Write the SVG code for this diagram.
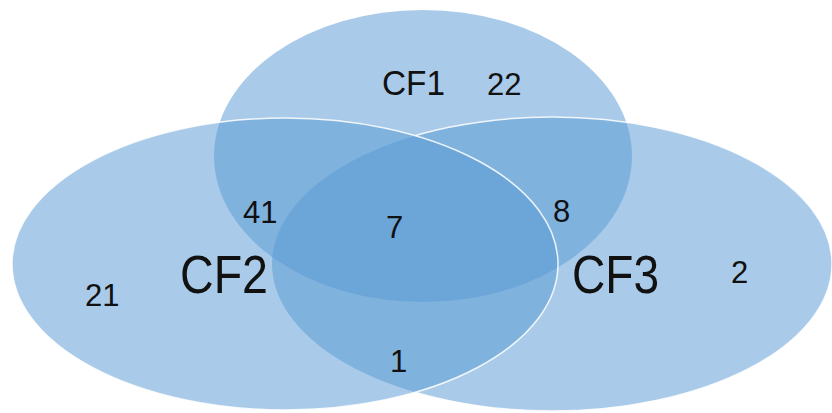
<svg xmlns="http://www.w3.org/2000/svg" width="832" height="413" viewBox="0 0 832 413">
  <style>
    .set { fill: #5B9BD5; fill-opacity: 0.52; }
    .rim { fill: none; stroke: #ffffff; stroke-width: 1.5; stroke-opacity: 0.85; }
    .name { font-family: "Liberation Sans", Arial, sans-serif; fill: #111111; }
    .count { font-family: "Liberation Sans", Arial, sans-serif; font-size: 31px; fill: #111111; }
  </style>
  <defs>
    <!-- everything outside the CF2 ellipse -->
    <clipPath id="outsideCf2">
      <path clip-rule="evenodd" d="M0 0 H832 V413 H0 Z M12 264 A273 146 0 1 0 558 264 A273 146 0 1 0 12 264 Z"/>
    </clipPath>
  </defs>
  <rect width="832" height="413" fill="#ffffff"/>

  <!-- three overlapping sets -->
  <g id="cf1">
    <ellipse class="set" cx="423" cy="156" rx="209" ry="146"/>
  </g>
  <g id="cf3">
    <ellipse class="set" cx="552" cy="264" rx="280" ry="147"/>
    <ellipse class="rim" cx="552" cy="264" rx="280" ry="147" clip-path="url(#outsideCf2)"/>
  </g>
  <g id="cf2">
    <ellipse class="set" cx="285" cy="264" rx="273" ry="146"/>
    <ellipse class="rim" cx="285" cy="264" rx="273" ry="146"/>
  </g>

  <!-- set names -->
  <g id="labels">
    <text class="name" x="382" y="95" font-size="35" textLength="63" lengthAdjust="spacingAndGlyphs">CF1</text>
    <text class="name" x="180" y="293" font-size="53" textLength="88" lengthAdjust="spacingAndGlyphs">CF2</text>
    <text class="name" x="572" y="293" font-size="53" textLength="87" lengthAdjust="spacingAndGlyphs">CF3</text>
  </g>

  <!-- region counts -->
  <g id="counts">
    <text class="count" x="487" y="95">22</text>
    <text class="count" x="243" y="223">41</text>
    <text class="count" x="386" y="238">7</text>
    <text class="count" x="553" y="222">8</text>
    <text class="count" x="85" y="306">21</text>
    <text class="count" x="731" y="283">2</text>
    <text class="count" x="390" y="372">1</text>
  </g>
</svg>
